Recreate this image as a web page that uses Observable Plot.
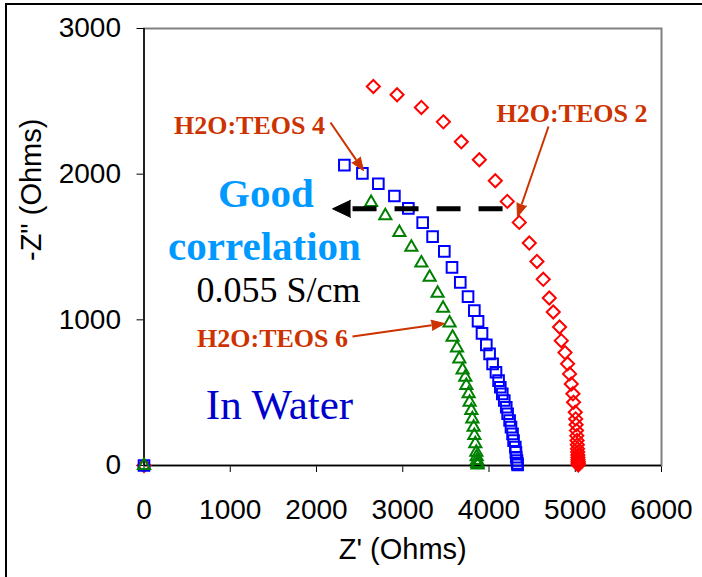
<!DOCTYPE html>
<html><head><meta charset="utf-8">
<script src="https://cdn.jsdelivr.net/npm/d3@7"></script>
<script src="https://cdn.jsdelivr.net/npm/@observablehq/plot@0.6"></script>
<style>
body{margin:0;background:#fff;}
#wrap{position:relative;width:702px;height:577px;overflow:hidden;}
.bt{position:absolute;left:5px;top:3px;width:697px;height:2px;background:#000;}
.bl{position:absolute;left:5px;top:3px;width:2px;height:574px;background:#000;}
</style></head><body>
<div id="wrap"><div id="chart"></div><div class="bt"></div><div class="bl"></div></div>
<script>
// ---- data (Z' and -Z'' in Ohms) ----
const teos2Re = [0, 2659, 2934, 3216, 3471, 3679, 3888, 4073, 4212, 4351, 4467, 4556, 4629, 4699, 4745, 4818, 4838, 4881, 4911, 4934, 4954, 4973, 4980, 5000, 5005, 5010, 5015, 5018, 5021, 5024, 5026, 5028, 5030, 5031, 5032, 5033, 5034, 5035, 5035];
const teos2Im = [0, 2602, 2545, 2458, 2359, 2222, 2099, 1955, 1813, 1669, 1527, 1401, 1278, 1150, 1054, 951, 857, 775, 698, 629, 560, 492, 434, 366, 320, 280, 240, 205, 172, 142, 115, 92, 72, 55, 40, 28, 18, 10, 4];
const teos4Re = [0, 2323, 2532, 2717, 2903, 3065, 3231, 3346, 3482, 3571, 3667, 3757, 3830, 3873, 3919, 3969, 4007, 4042, 4081, 4111, 4131, 4154, 4177, 4200, 4216, 4239, 4255, 4273, 4285, 4305, 4312, 4316, 4324, 4328, 4332];
const teos4Im = [0, 2062, 2005, 1934, 1850, 1765, 1667, 1571, 1470, 1360, 1257, 1159, 1063, 990, 907, 828, 766, 698, 640, 583, 537, 492, 446, 400, 355, 309, 263, 217, 171, 126, 90, 57, 34, 15, 4];
const teos6Re = [0, 2633, 2798, 2961, 3100, 3216, 3312, 3404, 3467, 3543, 3578, 3629, 3656, 3694, 3725, 3737, 3764, 3775, 3795, 3807, 3822, 3830, 3841, 3853, 3857, 3861, 3865, 3868];
const teos6Im = [0, 1806, 1715, 1600, 1499, 1390, 1292, 1182, 1079, 979, 880, 807, 732, 656, 606, 549, 492, 434, 377, 320, 263, 206, 149, 91, 60, 34, 14, 3];

const xTicks = [0, 1000, 2000, 3000, 4000, 5000, 6000];
const yTicks = [0, 1000, 2000, 3000];
const xLabel = "Z' (Ohms)";
const yLabel = "-Z\" (Ohms)";

// annotations (data coordinates)
const seriesLabels = ["H2O:TEOS 4", "H2O:TEOS 2", "H2O:TEOS 6"];
const seriesLabelX = [1223, 4962, 1490];
const seriesLabelY = [2334, 2416, 872];
const pointerFromX = [2162, 4690, 2417];
const pointerFromY = [2355, 2327, 886];
const pointerToX = [2545, 4330, 3484];
const pointerToY = [2025, 1709, 975];
const noteTexts = ["Good", "correlation", "0.055 S/cm", "In Water"];
const noteX = [1414, 1397, 1559, 1571];
const noteY = [1867, 1503, 1201, 412];
const corrFrom = [4157, 1762];
const corrTo = [2186, 1762];

// ---- build tables ----
const mk = (re, im) => re.map((x, i) => ({x, y: im[i]}));
const pts2 = mk(teos2Re, teos2Im), pts4 = mk(teos4Re, teos4Im), pts6 = mk(teos6Re, teos6Im);
const labels = seriesLabels.map((t, i) => ({t, x: seriesLabelX[i], y: seriesLabelY[i]}));
const pointers = seriesLabels.map((t, i) => ({x1: pointerFromX[i], y1: pointerFromY[i], x2: pointerToX[i], y2: pointerToY[i]}));
const notes = noteTexts.map((t, i) => ({t, x: noteX[i], y: noteY[i]}));

const fmt = d3.format("d");
const common = {
  width: 702, height: 577,
  marginLeft: 143.5, marginRight: 41, marginTop: 28, marginBottom: 112,
  style: {fontFamily: "'Liberation Sans', Arial, sans-serif", fontSize: "28px", color: "black", background: "white"},
  x: {domain: [0, 6000], ticks: xTicks, tickSize: 7, tickPadding: 27, tickFormat: fmt, label: null},
  y: {domain: [0, 3000], ticks: yTicks, tickSize: 7, tickPadding: 16, tickFormat: fmt, label: null}
};
const base = Plot.plot({...common, marks: []});
const sx = base.scale("x"), sy = base.scale("y");
function head(x1, y1, x2, y2, len) {
  const px1 = sx.apply(x1), py1 = sy.apply(y1), px2 = sx.apply(x2), py2 = sy.apply(y2);
  const dx = px2 - px1, dy = py2 - py1, d = Math.hypot(dx, dy);
  const bx = px2 - dx / d * len, by = py2 - dy / d * len;
  return {x1, y1, x2: sx.invert(bx), y2: sy.invert(by), tx: x2, ty: y2, rotate: Math.atan2(dx, -dy) * 180 / Math.PI};
}
const ORANGE = "#CC3300";
const pHeads = pointers.map(p => head(p.x1, p.y1, p.x2, p.y2, 13));
const cHead = [head(corrFrom[0], corrFrom[1], corrTo[0], corrTo[1], 18)];

function marks(useSpike) {
  const m = [
    Plot.frame({stroke: "#808080", strokeWidth: 2}),
    Plot.ruleX([0], {stroke: "black", strokeWidth: 1.5}),
    Plot.ruleY([0], {stroke: "black", strokeWidth: 1.5}),
    Plot.dot(pts2, {x: "x", y: "y", symbol: "diamond2", r: 5.9, stroke: "#FF0000", strokeWidth: 2, fill: "none"}),
    Plot.dot(pts4, {x: "x", y: "y", symbol: "square", r: 6.0, stroke: "#0000FF", strokeWidth: 2, fill: "none"}),
    Plot.dot(pts6, {x: "x", y: "y", symbol: "triangle2", r: 5.8, stroke: "#008000", strokeWidth: 2, fill: "none"}),
    Plot.text(labels, {x: "x", y: "y", text: "t", fill: ORANGE, fontFamily: "'Liberation Serif', 'Times New Roman', serif", fontWeight: "bold", fontSize: 26}),
    Plot.text(notes.slice(0, 2), {x: "x", y: "y", text: "t", fill: "#0099FF", fontFamily: "'Liberation Serif', 'Times New Roman', serif", fontWeight: "bold", fontSize: 41}),
    Plot.text(notes.slice(2, 3), {x: "x", y: "y", text: "t", fill: "black", fontFamily: "'Liberation Serif', 'Times New Roman', serif", fontSize: 36}),
    Plot.text(notes.slice(3, 4), {x: "x", y: "y", text: "t", fill: "#0000CC", fontFamily: "'Liberation Serif', 'Times New Roman', serif", fontSize: 43}),
    Plot.text([xLabel], {frameAnchor: "bottom", dy: 93, text: d => d, fontSize: 29}),
    Plot.text([yLabel], {frameAnchor: "left", dx: -112, dy: 14, rotate: -90, text: d => d, fontSize: 29}),
    Plot.link(pHeads, {x1: "x1", y1: "y1", x2: "x2", y2: "y2", stroke: ORANGE, strokeWidth: 2}),
    Plot.link(cHead, {x1: "x1", y1: "y1", x2: "x2", y2: "y2", stroke: "black", strokeWidth: 5, strokeDasharray: "24,18"})
  ];
  if (useSpike) {
    m.push(Plot.vector(pHeads, {x: "x2", y: "y2", rotate: "rotate", length: 13, r: 5, shape: "spike", anchor: "start", fill: ORANGE, fillOpacity: 1, stroke: ORANGE, strokeWidth: 1}));
    m.push(Plot.vector(cHead, {x: "x2", y: "y2", rotate: "rotate", length: 18, r: 8.5, shape: "spike", anchor: "start", fill: "black", fillOpacity: 1, stroke: "black", strokeWidth: 1}));
  } else {
    m.push(Plot.arrow(pHeads, {x1: "x2", y1: "y2", x2: "tx", y2: "ty", stroke: ORANGE, strokeWidth: 3, headLength: 13, headAngle: 45}));
    m.push(Plot.arrow(cHead, {x1: "x2", y1: "y2", x2: "tx", y2: "ty", stroke: "black", strokeWidth: 5, headLength: 18, headAngle: 50}));
  }
  return m;
}
let chart;
try { chart = Plot.plot({...common, marks: marks(true)}); }
catch (e) { chart = Plot.plot({...common, marks: marks(false)}); }
document.getElementById("chart").append(chart);
</script>
</body></html>
